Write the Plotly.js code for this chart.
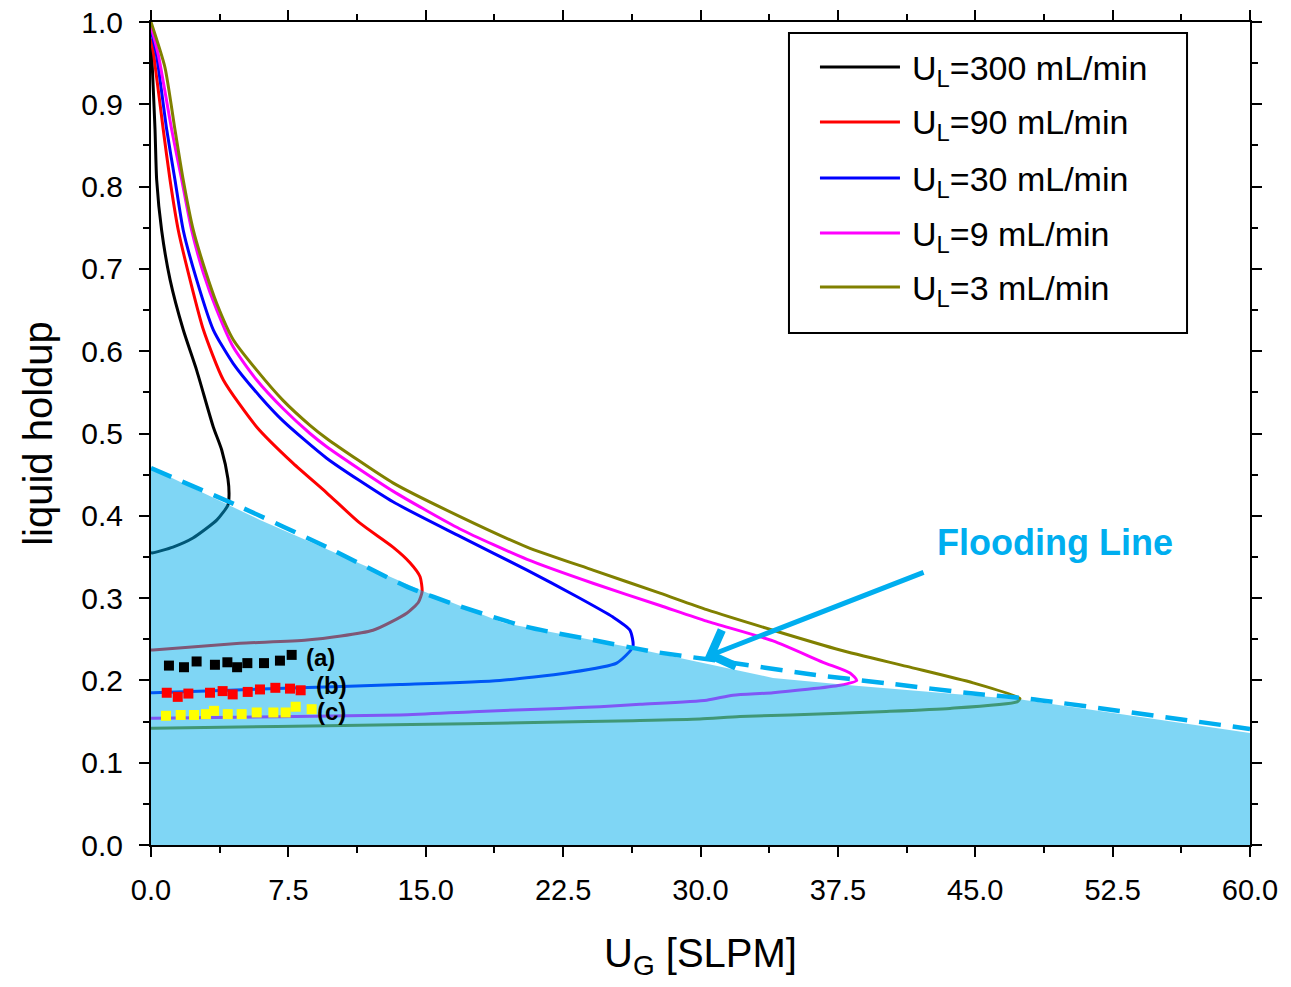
<!DOCTYPE html>
<html>
<head>
<meta charset="utf-8">
<script src="https://cdn.plot.ly/plotly-3.0.1.min.js"></script>
<style>html,body{margin:0;padding:0;background:#fff;}#chart{width:1291px;height:987px;}</style>
</head>
<body>
<div id="chart"></div>
<script>
// ---- Data ----
const seriesNames = ['U<sub>L</sub>=300 mL/min', 'U<sub>L</sub>=90 mL/min', 'U<sub>L</sub>=30 mL/min', 'U<sub>L</sub>=9 mL/min', 'U<sub>L</sub>=3 mL/min'];
const seriesColors = ['#000000', '#ff0000', '#0000ff', '#ff00ff', '#808000'];

const ul300_x = [0, 0.05, 0.22, 0.31, 0.58, 1.04, 1.76, 2.49, 3.40, 3.86, 4.20, 4.26, 4.20, 3.60, 2.29, 1.20, 0.11, 0];
const ul300_y = [0.975, 0.955, 0.869, 0.808, 0.747, 0.687, 0.626, 0.577, 0.508, 0.480, 0.445, 0.425, 0.413, 0.395, 0.373, 0.362, 0.355, 0.355];

const ul90_x = [0, 0.15, 0.67, 1.04, 1.49, 2.13, 2.86, 3.95, 5.77, 7.75, 9.59, 11.41, 13.21, 14.14, 14.69, 14.80, 14.60, 13.98, 12.12, 8.52, 4.86, 0.11, 0];
const ul90_y = [0.980, 0.960, 0.869, 0.808, 0.747, 0.687, 0.626, 0.565, 0.508, 0.464, 0.428, 0.391, 0.362, 0.343, 0.326, 0.308, 0.295, 0.282, 0.261, 0.249, 0.245, 0.237, 0.237];

const ul30_x = [0, 0.3, 0.86, 1.31, 1.76, 2.49, 3.40, 4.49, 5.95, 7.22, 9.59, 13.21, 16.87, 20.53, 23.24, 25.22, 26.15, 26.31, 25.42, 22.69, 19.05, 13.59, 8.13, 0.11, 0];
const ul30_y = [0.990, 0.960, 0.869, 0.808, 0.747, 0.687, 0.626, 0.585, 0.545, 0.515, 0.470, 0.417, 0.375, 0.334, 0.302, 0.277, 0.261, 0.241, 0.221, 0.209, 0.200, 0.195, 0.191, 0.185, 0.185];

const ul9_x = [0, 0.4, 1.13, 1.68, 2.22, 2.86, 3.59, 4.49, 5.77, 7.22, 8.68, 9.59, 13.21, 16.87, 20.53, 24.13, 27.79, 30.34, 33.96, 36.69, 38.16, 38.53, 37.62, 33.96, 31.77, 30.34, 26.70, 24.51, 22.33, 17.58, 13.59, 0.11, 0];
const ul9_y = [0.995, 0.960, 0.869, 0.808, 0.747, 0.695, 0.650, 0.605, 0.565, 0.530, 0.500, 0.484, 0.430, 0.384, 0.347, 0.318, 0.291, 0.272, 0.248, 0.222, 0.209, 0.200, 0.194, 0.185, 0.182, 0.176, 0.171, 0.168, 0.166, 0.162, 0.158, 0.154, 0.154];

const ul3_x = [0, 0.76, 1.31, 1.76, 2.31, 2.95, 3.59, 4.49, 5.77, 7.22, 8.68, 9.59, 13.21, 16.87, 20.53, 24.13, 27.79, 30.34, 33.96, 37.62, 41.26, 44.88, 47.44, 47.28, 43.62, 39.80, 37.62, 32.16, 29.97, 26.31, 21.62, 13.21, 0.11, 0];
const ul3_y = [1.000, 0.945, 0.869, 0.808, 0.747, 0.699, 0.658, 0.614, 0.577, 0.540, 0.510, 0.494, 0.440, 0.399, 0.362, 0.334, 0.306, 0.286, 0.261, 0.237, 0.217, 0.197, 0.178, 0.174, 0.166, 0.162, 0.160, 0.156, 0.153, 0.151, 0.149, 0.146, 0.142, 0.142];

// shaded (flooded) region boundary
const region_x = [0, 0, 5.95, 14.90, 19.22, 25.99, 33.96, 38.16, 47.40, 60, 60, 0];
const region_y = [0, 0.458, 0.395, 0.308, 0.270, 0.241, 0.203, 0.194, 0.177, 0.136, 0, 0];

// flooding line (dashed)
const flood_x = [0, 4.86, 9.59, 13.96, 16.87, 20.51, 24.13, 27.41, 31.24, 35.80, 40.34, 44.89, 47.80, 60];
const flood_y = [0.458, 0.411, 0.362, 0.314, 0.290, 0.265, 0.249, 0.235, 0.223, 0.208, 0.196, 0.184, 0.178, 0.141];

// experimental points
const expA_x = [0.98, 1.80, 2.49, 3.49, 4.17, 4.70, 5.26, 6.17, 7.04, 7.68];
const expA_y = [0.218, 0.216, 0.223, 0.219, 0.222, 0.216, 0.221, 0.221, 0.224, 0.231];
const expB_x = [0.86, 1.46, 2.04, 3.22, 3.91, 4.46, 5.28, 5.95, 6.79, 7.59, 8.17];
const expB_y = [0.185, 0.180, 0.184, 0.185, 0.187, 0.183, 0.186, 0.189, 0.191, 0.190, 0.188];
const expC_x = [0.82, 1.62, 2.35, 3.00, 3.44, 4.19, 4.95, 5.77, 6.68, 7.35, 7.90, 8.77];
const expC_y = [0.157, 0.158, 0.158, 0.159, 0.163, 0.159, 0.159, 0.161, 0.161, 0.161, 0.168, 0.165];
const expLabels = ['(a)', '(b)', '(c)'];

const xTickVals = [0, 7.5, 15, 22.5, 30, 37.5, 45, 52.5, 60];
const yTickVals = [0, 0.1, 0.2, 0.3, 0.4, 0.5, 0.6, 0.7, 0.8, 0.9, 1.0];

// ---- Traces ----
const curveX = [ul300_x, ul90_x, ul30_x, ul9_x, ul3_x];
const curveY = [ul300_y, ul90_y, ul30_y, ul9_y, ul3_y];
const FONT = 'Arial, "Liberation Sans", sans-serif';

const traces = [];
for (let i = 0; i < 5; i++) {
  traces.push({
    x: curveX[i], y: curveY[i], type: 'scatter', mode: 'lines',
    name: seriesNames[i], showlegend: false,
    line: {color: seriesColors[i], width: 3, shape: 'spline', smoothing: 0.6}
  });
}
traces.push({
  x: region_x, y: region_y, type: 'scatter', mode: 'lines', fill: 'toself',
  fillcolor: 'rgba(0,173,236,0.5)', line: {width: 0}, showlegend: false, hoverinfo: 'skip'
});
traces.push({
  x: flood_x, y: flood_y, type: 'scatter', mode: 'lines', showlegend: false,
  line: {color: '#00aeef', width: 4.5, dash: '22px,12px', shape: 'spline', smoothing: 0.6}
});
const expSets = [[expA_x, expA_y, '#000000'], [expB_x, expB_y, '#ff0000'], [expC_x, expC_y, '#ffff00']];
for (const s of expSets) {
  traces.push({x: s[0], y: s[1], type: 'scatter', mode: 'markers', showlegend: false,
    marker: {symbol: 'square', size: 10, color: s[2], line: {width: 0}}});
}

const axisCommon = {
  showline: true, linewidth: 2, linecolor: '#000', mirror: 'allticks',
  ticks: 'outside', ticklen: 10, tickwidth: 2, tickcolor: '#000',
  showgrid: false, zeroline: false, tickformat: '.1f',
  tickfont: {family: FONT, size: 29, color: '#000'}
};

// ---- Legend box (drawn in paper coordinates) ----
const legX0 = 0.5805, legX1 = 0.9427, legY0 = 0.6221, legY1 = 0.9866;
const legLineX0 = 0.6087, legLineX1 = 0.6815, legTextX = 0.6906;
const legRowY = [0.9453, 0.8785, 0.8104, 0.7436, 0.6780];

const shapes = [{type: 'rect', xref: 'paper', yref: 'paper', x0: legX0, x1: legX1, y0: legY0, y1: legY1,
  line: {color: '#000', width: 2}, fillcolor: '#fff', layer: 'above'}];
const annotations = [];
for (let i = 0; i < 5; i++) {
  shapes.push({type: 'line', xref: 'paper', yref: 'paper', x0: legLineX0, x1: legLineX1,
    y0: legRowY[i], y1: legRowY[i], line: {color: seriesColors[i], width: 3}, layer: 'above'});
  annotations.push({xref: 'paper', yref: 'paper', x: legTextX, y: legRowY[i], xanchor: 'left', yanchor: 'middle',
    text: seriesNames[i], showarrow: false, font: {family: FONT, size: 34, color: '#000'}, yshift: -3});
}
annotations.push(
  {x: 49.35, y: 0.368, xref: 'x', yref: 'y', text: '<b>Flooding Line</b>', showarrow: false,
   font: {family: FONT, size: 36, color: '#00aeef'}},
  {x: 30.25, y: 0.228, ax: 42.26, ay: 0.332, xref: 'x', yref: 'y', axref: 'x', ayref: 'y',
   text: '', showarrow: true, arrowhead: 4, arrowsize: 1.5, arrowwidth: 5, arrowcolor: '#00aeef'}
);
const labelPos = [[9.23, 0.228], [9.88, 0.194], [9.83, 0.162]];
for (let i = 0; i < 3; i++) {
  annotations.push({x: labelPos[i][0], y: labelPos[i][1], xref: 'x', yref: 'y', text: '<b>' + expLabels[i] + '</b>',
    showarrow: false, font: {family: FONT, size: 24, color: '#000'}});
}

const layout = {
  width: 1291, height: 987,
  margin: {l: 151, r: 41, t: 22, b: 142},
  paper_bgcolor: '#fff', plot_bgcolor: '#fff',
  font: {family: FONT, color: '#000'},
  showlegend: false,
  xaxis: Object.assign({}, axisCommon, {
    range: [0, 60], tickvals: xTickVals, ticklabelstandoff: 8,
    minor: {tickvals: [3.75, 11.25, 18.75, 26.25, 33.75, 41.25, 48.75, 56.25], ticks: 'outside', ticklen: 6, tickwidth: 2, tickcolor: '#000'},
    title: {text: 'U<sub>G</sub> [SLPM]', font: {family: FONT, size: 40}, standoff: 34}
  }),
  yaxis: Object.assign({}, axisCommon, {
    range: [0, 1], tickvals: yTickVals, ticklabelstandoff: 10,
    tickfont: {family: FONT, size: 30, color: '#000'},
    minor: {dtick: 0.05, tick0: 0, ticks: 'outside', ticklen: 6, tickwidth: 2, tickcolor: '#000'},
    title: {text: 'liquid holdup', font: {family: FONT, size: 40}, standoff: 16}
  }),
  shapes: shapes,
  annotations: annotations
};

Plotly.newPlot('chart', traces, layout, {displayModeBar: false, staticPlot: true});
</script>
</body>
</html>
